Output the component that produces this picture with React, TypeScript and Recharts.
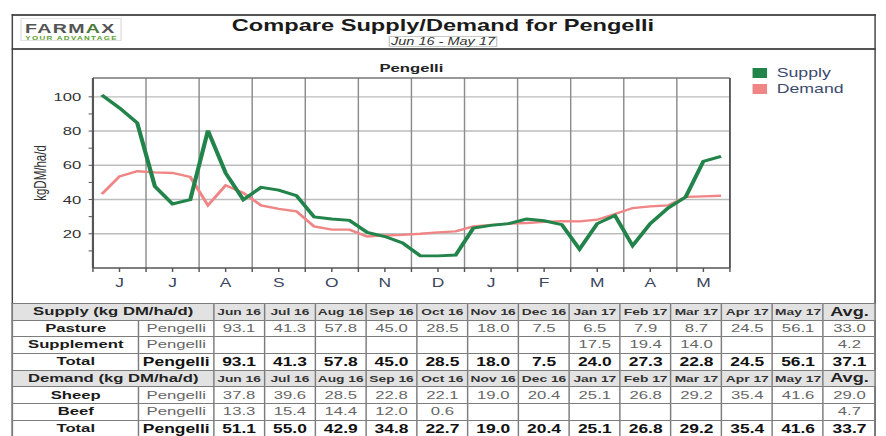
import {
  LineChart,
  Line,
  XAxis,
  YAxis,
  CartesianGrid,
  ReferenceLine,
} from "recharts";

// 10-day periods, Jun 16 - May 17 (kg DM/ha/d)
const supply = [
  101, 93.5, 84.8, 47.7, 37.4, 39.9, 80.3, 55.5, 39.9, 47.1, 45.5, 42.3,
  29.8, 28.6, 27.8, 20.8, 18.4, 14.6, 7.1, 7.1, 7.6, 23.3, 24.9, 25.9,
  28.6, 27.6, 25.3, 11, 25.9, 30.7, 13, 25.9, 35, 41.5, 62.3, 65.2,
];
const demand = [
  43.2, 53.5, 56.5, 55.9, 55.5, 53.2, 36.6, 48.3, 43.8, 36.6, 34.6, 33.1,
  24.3, 22.4, 22.4, 18.4, 19, 19.4, 20, 20.8, 21.4, 24.3, 25.2, 25.9,
  26.3, 27, 27.4, 27.2, 28.2, 31.5, 35, 36, 36.6, 41.5, 41.8, 42.2,
];

const monthLetters = ["J", "J", "A", "S", "O", "N", "D", "J", "F", "M", "A", "M"];
const months = [
  "Jun 16", "Jul 16", "Aug 16", "Sep 16", "Oct 16", "Nov 16",
  "Dec 16", "Jan 17", "Feb 17", "Mar 17", "Apr 17", "May 17",
];

// table rows
const pasture = [93.1, 41.3, 57.8, 45.0, 28.5, 18.0, 7.5, 6.5, 7.9, 8.7, 24.5, 56.1];
const supplement = [null, null, null, null, null, null, null, 17.5, 19.4, 14.0, null, null];
const supplyTotal = [93.1, 41.3, 57.8, 45.0, 28.5, 18.0, 7.5, 24.0, 27.3, 22.8, 24.5, 56.1];
const sheep = [37.8, 39.6, 28.5, 22.8, 22.1, 19.0, 20.4, 25.1, 26.8, 29.2, 35.4, 41.6];
const beef = [13.3, 15.4, 14.4, 12.0, 0.6, null, null, null, null, null, null, null];
const demandTotal = [51.1, 55.0, 42.9, 34.8, 22.7, 19.0, 20.4, 25.1, 26.8, 29.2, 35.4, 41.6];
const avgs = { pasture: 33.0, supplement: 4.2, supplyTotal: 37.1, sheep: 29.0, beef: 4.7, demandTotal: 33.7 };

const chartData = supply.map((s, i) => ({ slot: i + 0.5, supply: s, demand: demand[i] }));
const xTicks = Array.from({ length: months.length * 2 + 1 }, (_, i) => i * 1.5);
const monthEdges = months.map((_, i) => i * 3).slice(1);
const yTicks = [10, 20, 30, 40, 50, 60, 70, 80, 90, 100];

const FONT = '"Liberation Sans", Arial, sans-serif';
const GREEN = "#22844a";
const PINK = "#f08585";

const border = "1.5px solid #7c7c7c";

function fmt(v: number | null) {
  return v == null ? "" : v.toFixed(1);
}

function HeaderRow({ title }: { title: string }) {
  return (
    <tr style={{ height: 16.7, background: "#e2e2e2" }}>
      <td colSpan={2} style={{ border, fontWeight: 700, fontSize: 11.5, color: "#222" }}>{title}</td>
      {months.map((m) => (
        <td key={m} style={{ border, fontWeight: 700, fontSize: 9.5, color: "#333" }}>{m}</td>
      ))}
      <td style={{ border, fontWeight: 700, fontSize: 12.5, color: "#222" }}>Avg.</td>
    </tr>
  );
}

function DataRow({ label, values, avg, bold }: { label: string; values: (number | null)[]; avg: number; bold?: boolean }) {
  const cell = {
    border,
    fontSize: bold ? 12 : 11.5,
    fontWeight: bold ? 700 : 400,
    color: bold ? "#111" : "#666",
  };
  return (
    <tr style={{ height: 16.7 }}>
      <td style={{ border, fontWeight: 700, fontSize: 11.5, color: "#1a1a1a" }}>{label}</td>
      <td style={cell}>Pengelli</td>
      {values.map((v, i) => (
        <td key={i} style={cell}>{fmt(v)}</td>
      ))}
      <td style={cell}>{fmt(avg)}</td>
    </tr>
  );
}

export default function App() {
  return (
    <div
      style={{
        position: "absolute",
        left: 0,
        top: 0,
        width: 611,
        height: 436,
        overflow: "hidden",
        background: "#fff",
        fontFamily: FONT,
        transform: "scaleX(1.45)",
        transformOrigin: "0 0",
      }}
    >
      {/* frame */}
      <div style={{ position: "absolute", left: 7.6, top: 14, width: 596, height: 2, background: "#555" }} />
      <div style={{ position: "absolute", left: 7.6, top: 47.5, width: 596, height: 2, background: "#555" }} />
      <div style={{ position: "absolute", left: 7.6, top: 14, width: 1.4, height: 430, background: "#444" }} />
      <div style={{ position: "absolute", left: 602.6, top: 14, width: 1.4, height: 430, background: "#444" }} />

      {/* logo */}
      <div
        style={{
          position: "absolute",
          left: 13.8,
          top: 18,
          width: 70,
          height: 23,
          border: "1px solid #e2e2e2",
          boxSizing: "border-box",
        }}
      >
        <div style={{ position: "absolute", left: 2.5, top: 1.5, fontSize: 13.5, lineHeight: "15px", fontWeight: 700, color: "#545454", letterSpacing: 0.9 }}>
          FARM<span style={{ color: "#4f7a3a" }}>A</span>X
        </div>
        <div style={{ position: "absolute", right: 1.5, top: 15.5, fontSize: 5.5, lineHeight: "6px", fontWeight: 700, color: "#5aa02c", whiteSpace: "nowrap", letterSpacing: 0.9 }}>
          YOUR ADVANTAGE
        </div>
      </div>

      {/* titles */}
      <div style={{ position: "absolute", left: 0, width: 611, top: 15, lineHeight: "20px", fontSize: 16.3, fontWeight: 700, color: "#1a1a1a", textAlign: "center" }}>
        Compare Supply/Demand for Pengelli
      </div>
      <div
        style={{
          position: "absolute",
          left: 268.3,
          top: 35.5,
          width: 74.5,
          height: 11.5,
          border: "1px solid #c8c8c8",
          boxSizing: "border-box",
          fontSize: 10,
          lineHeight: "10px",
          fontStyle: "italic",
          color: "#333",
          textAlign: "center",
        }}
      >
        Jun 16 - May 17
      </div>

      {/* chart */}
      <div style={{ position: "absolute", left: 0, top: 0 }}>
        <LineChart
          width={611}
          height={300}
          data={chartData}
          margin={{ top: 78, right: 107.6, bottom: 2, left: 24.1 }}
        >
          <CartesianGrid
            horizontalValues={[20, 40, 60, 80, 100]}
            vertical={false}
            stroke="#bdbdbd"
            strokeWidth={1.4}
          />
          <CartesianGrid
            verticalValues={monthEdges}
            horizontal={false}
            stroke="#8c8c8c"
            strokeWidth={1}
          />
          <XAxis
            type="number"
            dataKey="slot"
            domain={[0, 36]}
            ticks={xTicks}
            interval={0}
            allowDataOverflow
            height={30}
            tickSize={4}
            tickMargin={6}
            tickFormatter={(v: number) => {
              const k = Math.round(v / 1.5);
              return k % 2 === 1 ? monthLetters[(k - 1) / 2] : "";
            }}
            axisLine={{ stroke: "#555", strokeWidth: 1.5 }}
            tickLine={{ stroke: "#555" }}
            tick={{ fill: "#3b4560", fontSize: 12 }}
          />
          <YAxis
            type="number"
            domain={[0, 111]}
            ticks={yTicks}
            interval={0}
            allowDataOverflow
            width={40}
            tickSize={3}
            tickMargin={5}
            tickFormatter={(v: number) => (v % 20 === 0 ? String(v) : "")}
            axisLine={{ stroke: "#555", strokeWidth: 1.5 }}
            tickLine={{ stroke: "#555" }}
            tick={{ fill: "#333", fontSize: 11.5 }}
          />
          <ReferenceLine y={111} stroke="#777" strokeWidth={1.3} />
          <ReferenceLine x={36} stroke="#555" strokeWidth={1.3} />
          <Line
            type="linear"
            dataKey="demand"
            stroke={PINK}
            strokeWidth={2.3}
            dot={false}
            isAnimationActive={false}
          />
          <Line
            type="linear"
            dataKey="supply"
            stroke={GREEN}
            strokeWidth={2.9}
            dot={false}
            isAnimationActive={false}
          />
        </LineChart>
      </div>

      {/* chart title and y label */}
      <div style={{ position: "absolute", left: 64.1, width: 439.3, top: 60.5, lineHeight: "14px", fontSize: 11.5, fontWeight: 700, color: "#222", textAlign: "center" }}>
        Pengelli
      </div>
      <div
        style={{
          position: "absolute",
          left: 27.6 - 40,
          top: 173 - 7,
          width: 80,
          lineHeight: "14px",
          fontSize: 11.5,
          color: "#333",
          textAlign: "center",
          transform: "rotate(-90deg)",
        }}
      >
        kgDM/ha/d
      </div>

      {/* legend */}
      {[
        { name: "Supply", color: GREEN, y: 73.3 },
        { name: "Demand", color: PINK, y: 89.3 },
      ].map((l) => (
        <div key={l.name}>
          <div style={{ position: "absolute", left: 518.6, top: l.y - 5, width: 10.3, height: 10, background: l.color }} />
          <div style={{ position: "absolute", left: 535.7, top: l.y - 8, lineHeight: "16px", fontSize: 12.2, color: "#3c4a6e" }}>
            {l.name}
          </div>
        </div>
      ))}

      {/* table */}
      <table
        style={{
          position: "absolute",
          left: 8.3,
          top: 303,
          width: 595.1,
          tableLayout: "fixed",
          borderCollapse: "collapse",
          textAlign: "center",
          whiteSpace: "nowrap",
          lineHeight: 1,
          fontFamily: FONT,
        }}
      >
        <colgroup>
          <col style={{ width: 86.9 }} />
          <col style={{ width: 51.7 }} />
          {months.map((m) => (
            <col key={m} style={{ width: 35.06 }} />
          ))}
          <col style={{ width: 35.8 }} />
        </colgroup>
        <tbody>
          <HeaderRow title="Supply (kg DM/ha/d)" />
          <DataRow label="Pasture" values={pasture} avg={avgs.pasture} />
          <DataRow label="Supplement" values={supplement} avg={avgs.supplement} />
          <DataRow label="Total" values={supplyTotal} avg={avgs.supplyTotal} bold />
          <HeaderRow title="Demand (kg DM/ha/d)" />
          <DataRow label="Sheep" values={sheep} avg={avgs.sheep} />
          <DataRow label="Beef" values={beef} avg={avgs.beef} />
          <DataRow label="Total" values={demandTotal} avg={avgs.demandTotal} bold />
        </tbody>
      </table>
    </div>
  );
}
